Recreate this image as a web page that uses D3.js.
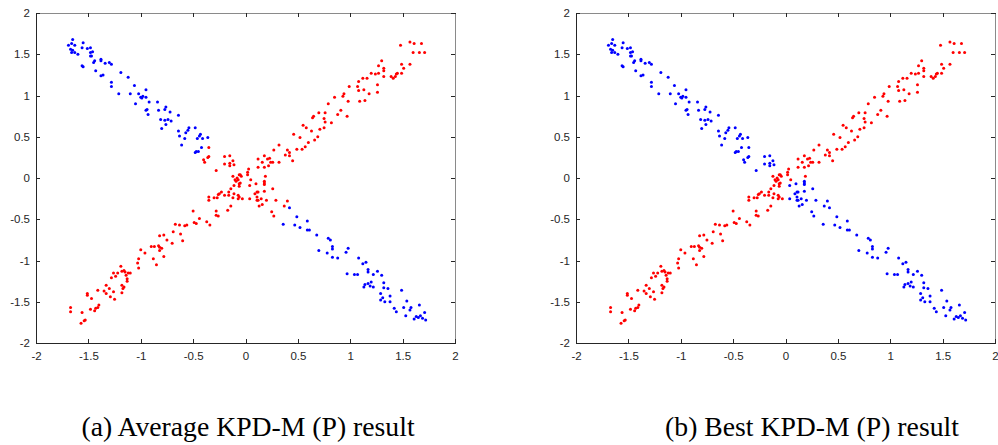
<!DOCTYPE html>
<html><head><meta charset="utf-8">
<script src="https://cdn.jsdelivr.net/npm/d3@7"></script>
<style>
html,body{margin:0;padding:0;background:#fff;}
svg{display:block;}
.tick text{font-family:"Liberation Sans",Arial,Helvetica,sans-serif;font-size:11.5px;fill:#262626;}
.cap{font-family:"Liberation Serif","Times New Roman",serif;font-size:27.7px;fill:#000;}
</style></head>
<body><svg id="c" width="998" height="445"></svg>
<script>
const xTicks = [-2,-1.5,-1,-0.5,0,0.5,1,1.5,2];
const yTicks = [-2,-1.5,-1,-0.5,0,0.5,1,1.5,2];
const captions = ["(a) Average KPD-M (P) result", "(b) Best KPD-M (P) result"];

const blueUpperLeft = [[-1.69,1.61],[-1.65,1.68],[-1.66,1.63],[-1.63,1.61],[-1.67,1.56],[-1.66,1.52],[-1.65,1.55],[-1.63,1.52],[-1.60,1.50],[-1.55,1.64],[-1.56,1.58],[-1.51,1.57],[-1.48,1.58],[-1.48,1.52],[-1.46,1.53],[-1.48,1.48],[-1.47,1.48],[-1.44,1.42],[-1.45,1.40],[-1.56,1.36],[-1.55,1.35],[-1.38,1.44],[-1.38,1.42],[-1.34,1.39],[-1.30,1.40],[-1.28,1.38],[-1.43,1.30],[-1.38,1.24],[-1.36,1.25],[-1.28,1.16],[-1.28,1.11],[-1.21,1.02],[-1.19,1.28],[-1.12,1.22],[-1.10,1.02],[-1.06,1.12],[-1.05,0.90],[-1.02,1.02],[-1.00,0.98],[-0.99,0.97],[-0.98,0.99],[-0.95,1.07],[-0.95,0.98],[-0.92,0.92],[-0.95,0.82],[-0.94,0.83],[-0.93,0.77],[-0.84,0.92],[-0.83,0.82],[-0.77,0.83],[-0.76,0.86],[-0.81,0.71],[-0.77,0.70],[-0.74,0.71],[-0.71,0.69],[-0.80,0.60],[-0.76,0.65],[-0.72,0.80],[-0.64,0.76],[-0.64,0.57],[-0.63,0.51],[-0.61,0.40],[-0.58,0.48],[-0.57,0.55],[-0.55,0.58],[-0.54,0.61],[-0.48,0.61],[-0.46,0.48],[-0.44,0.51],[-0.43,0.53],[-0.41,0.48],[-0.42,0.37],[-0.45,0.32],[-0.47,0.32],[-0.36,0.49],[-0.48,0.31]];

const redLowerLeft = [[-1.67,-1.57],[-1.67,-1.62],[-1.56,-1.63],[-1.57,-1.76],[-1.53,-1.72],[-1.54,-1.73],[-1.51,-1.40],[-1.51,-1.42],[-1.47,-1.46],[-1.48,-1.59],[-1.41,-1.36],[-1.43,-1.58],[-1.41,-1.57],[-1.40,-1.54],[-1.44,-1.61],[-1.35,-1.37],[-1.33,-1.30],[-1.33,-1.40],[-1.30,-1.34],[-1.29,-1.44],[-1.26,-1.38],[-1.25,-1.47],[-1.28,-1.21],[-1.26,-1.15],[-1.24,-1.19],[-1.22,-1.15],[-1.19,-1.07],[-1.18,-1.13],[-1.16,-1.12],[-1.15,-1.14],[-1.14,-1.18],[-1.13,-1.25],[-1.12,-1.15],[-1.13,-1.22],[-1.10,-1.15],[-1.17,-1.34],[-1.16,-1.32],[-1.18,-1.30],[-1.18,-1.39],[-1.03,-1.03],[-1.02,-0.98],[-1.02,-1.09],[-1.00,-0.87],[-0.96,-0.91],[-0.90,-0.83],[-0.87,-0.83],[-0.88,-0.98],[-0.85,-1.05],[-0.83,-0.82],[-0.82,-0.84],[-0.82,-0.88],[-0.80,-0.85],[-0.78,-0.95],[-0.82,-0.70],[-0.78,-0.69],[-0.75,-0.75],[-0.70,-0.79],[-0.69,-0.65],[-0.67,-0.56],[-0.63,-0.57],[-0.62,-0.68],[-0.60,-0.76],[-0.58,-0.58],[-0.56,-0.57]];

const redUpperRight = [[1.48,1.61],[1.57,1.65],[1.61,1.63],[1.68,1.63],[1.60,1.52],[1.66,1.52],[1.71,1.52],[1.30,1.42],[1.27,1.36],[1.32,1.33],[1.32,1.30],[1.49,1.38],[1.51,1.33],[1.57,1.38],[1.39,1.23],[1.41,1.21],[1.43,1.23],[1.44,1.26],[1.45,1.27],[1.49,1.27],[1.20,1.27],[1.24,1.26],[1.27,1.27],[1.16,1.21],[1.12,1.21],[1.08,1.17],[1.32,1.23],[1.26,1.13],[1.26,1.04],[0.99,1.11],[1.07,1.11],[1.08,1.06],[1.13,1.07],[1.18,1.02],[1.09,0.93],[1.14,0.94],[0.98,0.93],[0.93,0.99],[0.94,1.02],[0.85,0.98],[0.79,0.90],[0.70,0.79],[0.76,0.79],[0.65,0.75],[0.64,0.73],[0.75,0.72],[0.76,0.68],[0.97,0.75],[0.91,0.82],[0.88,0.77],[0.82,0.67],[0.71,0.59],[0.75,0.61],[0.63,0.57],[0.58,0.61],[0.55,0.64],[0.69,0.50],[0.66,0.46],[0.46,0.53],[0.52,0.49],[0.60,0.43],[0.57,0.38],[0.54,0.35],[0.49,0.35],[0.40,0.34],[0.42,0.31],[0.38,0.28],[0.42,0.27],[0.45,0.21]];

const blueLowerRight = [[0.59,-0.63],[0.61,-0.63],[0.68,-0.69],[0.70,-0.88],[0.78,-0.91],[0.79,-0.73],[0.81,-0.75],[0.83,-0.83],[0.83,-0.86],[0.83,-0.96],[0.88,-0.97],[0.96,-0.90],[0.98,-0.85],[0.97,-1.16],[1.04,-1.17],[1.08,-0.97],[1.07,-1.17],[1.12,-1.04],[1.15,-1.02],[1.17,-1.11],[1.17,-1.14],[1.22,-1.17],[1.26,-1.13],[1.30,-1.18],[1.13,-1.32],[1.14,-1.29],[1.17,-1.28],[1.19,-1.31],[1.20,-1.26],[1.22,-1.32],[1.29,-1.40],[1.29,-1.48],[1.32,-1.33],[1.32,-1.27],[1.31,-1.45],[1.33,-1.50],[1.38,-1.43],[1.36,-1.34],[1.38,-1.50],[1.42,-1.58],[1.44,-1.62],[1.49,-1.36],[1.51,-1.57],[1.54,-1.49],[1.53,-1.67],[1.57,-1.60],[1.58,-1.57],[1.61,-1.71],[1.63,-1.68],[1.65,-1.69],[1.66,-1.54],[1.67,-1.67],[1.69,-1.70],[1.71,-1.63],[1.72,-1.72],[0.42,-0.36],[0.49,-0.47],[0.36,-0.56],[0.47,-0.57],[0.59,-0.52],[0.52,-0.60]];

// centre points: x, y, label in (a), label in (b)
const centerPts = [[-0.35,0.37,'r','b'],[-0.35,0.26,'r','b'],[-0.36,0.25,'r','b'],[-0.40,0.22,'r','b'],[-0.39,0.19,'r','b'],[-0.20,0.26,'r','b'],[-0.15,0.27,'r','b'],[-0.20,0.17,'r','b'],[-0.15,0.18,'r','b'],[-0.15,0.15,'r','b'],[-0.12,0.21,'r','b'],[-0.11,0.16,'r','b'],[-0.28,0.09,'r','b'],
[0.03,0.11,'r','r'],[0.02,0.07,'r','r'],[0.02,0.04,'r','r'],[0.12,0.23,'r','r'],[0.16,0.19,'r','r'],[0.18,0.27,'r','r'],[0.21,0.23,'r','r'],[0.23,0.24,'r','r'],[0.24,0.19,'r','r'],[0.26,0.19,'r','r'],[0.22,0.15,'r','r'],[0.32,0.40,'r','r'],[0.27,0.34,'r','r'],[0.32,0.19,'r','r'],[0.12,0.13,'r','r'],[0.18,0.13,'r','r'],[0.19,0.02,'r','r'],[0.05,-0.02,'r','r'],[-0.12,0.02,'r','r'],[-0.06,0.04,'r','r'],[-0.05,0.04,'r','r'],[-0.04,0.02,'r','r'],[-0.08,0.00,'r','r'],[-0.10,-0.02,'r','r'],[-0.07,-0.02,'r','r'],[-0.09,-0.04,'r','r'],[-0.11,-0.09,'r','r'],[-0.06,-0.07,'r','r'],[-0.05,-0.06,'r','r'],[-0.06,-0.10,'r','r'],[-0.14,-0.13,'r','r'],[-0.16,-0.17,'r','r'],[-0.11,-0.19,'r','r'],[-0.23,-0.17,'r','r'],[-0.25,-0.19,'r','r'],[-0.26,-0.20,'r','r'],[-0.20,-0.21,'r','r'],[-0.16,-0.21,'r','r'],[-0.12,-0.24,'r','r'],[-0.07,-0.21,'r','r'],[-0.07,-0.25,'r','r'],[-0.06,-0.23,'r','r'],[-0.03,-0.25,'r','r'],
[0.04,-0.25,'r','b'],[0.04,-0.09,'r','b'],[0.10,-0.07,'r','b'],[0.09,-0.19,'r','b'],[0.11,-0.17,'r','b'],[0.12,-0.17,'r','b'],[0.11,-0.23,'r','b'],[0.11,-0.27,'r','b'],[0.12,-0.27,'r','b'],[0.15,-0.25,'r','b'],[0.18,-0.16,'r','b'],[0.18,-0.08,'r','b'],[0.18,-0.04,'r','b'],[0.18,-0.06,'r','b'],[0.26,-0.13,'r','b'],[0.20,-0.27,'r','b'],[0.29,-0.27,'r','b'],[0.16,-0.32,'r','b'],[0.13,-0.34,'r','b'],
[-0.35,-0.23,'r','r'],[-0.35,-0.27,'r','r'],[-0.30,-0.24,'r','r'],[-0.27,-0.24,'r','r'],[-0.14,-0.34,'r','r'],[-0.17,-0.39,'r','r'],[-0.28,-0.40,'r','r'],[-0.28,-0.45,'r','r'],[-0.26,-0.46,'r','r'],[-0.50,-0.40,'r','r'],[-0.44,-0.49,'r','r'],[-0.49,-0.54,'r','r'],[-0.47,-0.55,'r','r'],[-0.37,-0.53,'r','r'],[-0.34,-0.57,'r','r'],
[0.25,-0.41,'r','b'],[0.27,-0.46,'r','b'],[0.37,-0.34,'r','b'],[0.40,-0.28,'r','b']];

const colors = {r:"#ff0000", b:"#0000ff"};

const svg = d3.select("#c");
svg.append("rect").attr("width",998).attr("height",445).attr("fill","#fff");

const panels = [
  {left:36, right:455, top:13, bottom:343, li:2, capX:248},
  {left:576, right:995, top:13, bottom:343, li:3, capX:812}
];

panels.forEach((p, pi) => {
  const x = d3.scaleLinear().domain([-2,2]).range([p.left, p.right]);
  const y = d3.scaleLinear().domain([-2,2]).range([p.bottom, p.top]);
  const g = svg.append("g");
  const fmt = d => String(d);

  const ax = (sel, axis, t, domainColor) => {
    const a = g.append("g").attr("transform", t).call(axis);
    a.select(".domain").attr("stroke", domainColor).attr("shape-rendering","crispEdges");
    a.selectAll(".tick line").attr("stroke","#262626").attr("shape-rendering","crispEdges");
    return a;
  };
  ax(g, d3.axisTop(x).tickValues(xTicks).tickSize(-4).tickSizeOuter(0).tickFormat(""), `translate(0,${p.top})`, "#8a8a8a");
  ax(g, d3.axisRight(y).tickValues(yTicks).tickSize(-4).tickSizeOuter(0).tickFormat(""), `translate(${p.right},0)`, "#8a8a8a");
  ax(g, d3.axisBottom(x).tickValues(xTicks).tickSize(-4).tickSizeOuter(0).tickPadding(9).tickFormat(fmt), `translate(0,${p.bottom})`, "#262626");
  ax(g, d3.axisLeft(y).tickValues(yTicks).tickSize(-4).tickSizeOuter(0).tickPadding(6).tickFormat(fmt), `translate(${p.left},0)`, "#262626");
  g.selectAll(".tick text").attr("font-family",null).attr("font-size",null);

  const pts = [];
  blueUpperLeft.forEach(d => pts.push({x:d[0], y:d[1], c:'b'}));
  blueLowerRight.forEach(d => pts.push({x:d[0], y:d[1], c:'b'}));
  redLowerLeft.forEach(d => pts.push({x:d[0], y:d[1], c:'r'}));
  redUpperRight.forEach(d => pts.push({x:d[0], y:d[1], c:'r'}));
  centerPts.forEach(d => pts.push({x:d[0], y:d[1], c:d[p.li]}));

  g.append("g").selectAll("circle").data(pts).join("circle")
    .attr("cx", d => x(d.x)).attr("cy", d => y(d.y)).attr("r", 1.5)
    .attr("fill", d => colors[d.c]);

  svg.append("text").attr("class","cap").attr("x", p.capX).attr("y", 436)
    .attr("text-anchor","middle").text(captions[pi]);
});
</script></body></html>
